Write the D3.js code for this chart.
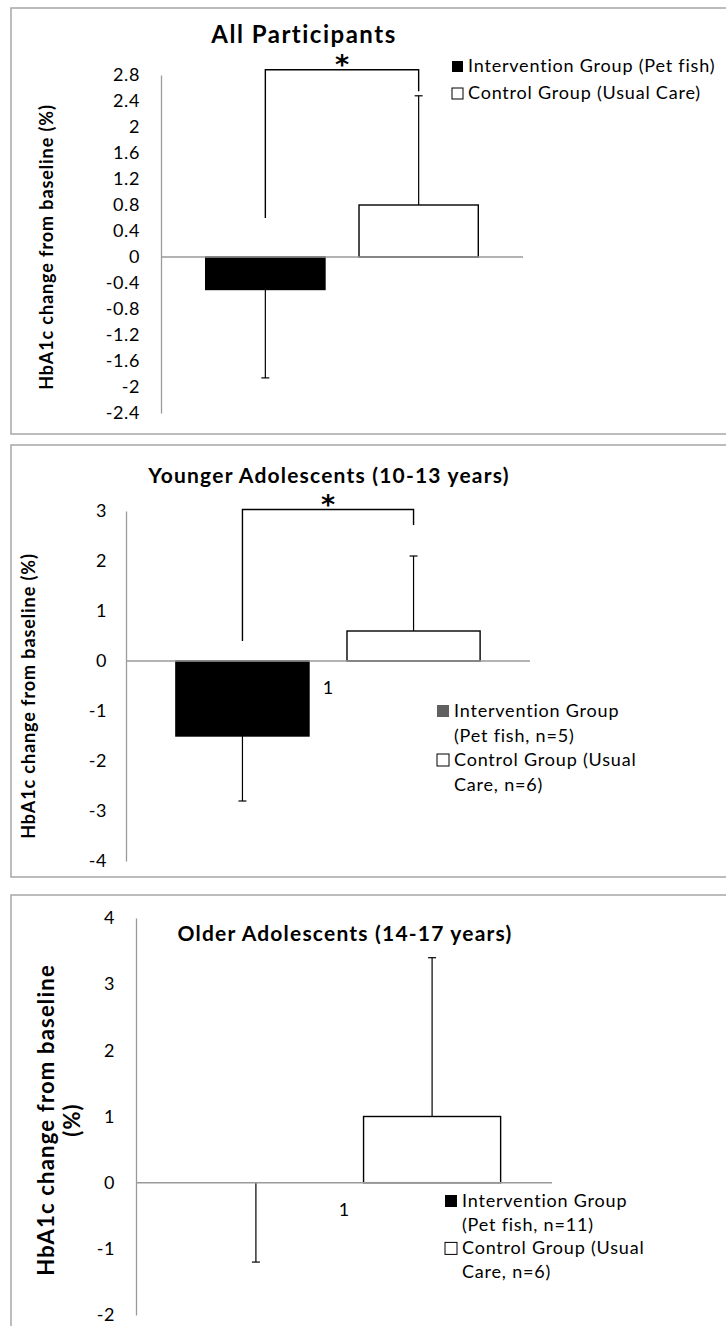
<!DOCTYPE html>
<html>
<head>
<meta charset="utf-8">
<script src="https://cdn.jsdelivr.net/npm/d3@7"></script>
<style>
  html, body { margin: 0; padding: 0; background: #fff; }
  svg { display: block; }
  text { font-family: Lato, "Open Sans", sans-serif; fill: #000; }
  text.sig { font-family: "DejaVu Sans", sans-serif; }
</style>
</head>
<body>
<svg id="chart" width="726" height="1326"></svg>
<script>
// ---------- data ----------
const panelTitles = ["All Participants", "Younger Adolescents (10-13 years)", "Older Adolescents (14-17 years)"];
const categories = ["1"];
const groupKeys = ["Intervention", "Control"];
const interventionMeans = [-0.5, -1.5, 0];
const interventionErr = [1.36, 1.3, 1.2];
const controlMeans = [0.8, 0.6, 1.0];
const controlErr = [1.68, 1.5, 2.4];
const yTicks1 = [2.8, 2.4, 2, 1.6, 1.2, 0.8, 0.4, 0, -0.4, -0.8, -1.2, -1.6, -2, -2.4];
const yTicks2 = [3, 2, 1, 0, -1, -2, -3, -4];
const yTicks3 = [4, 3, 2, 1, 0, -1, -2];
const yTitle = "HbA1c change from baseline (%)";
const yTitleSplit = ["HbA1c change from baseline", "(%)"];
const legend1 = [["Intervention Group (Pet fish)"], ["Control Group (Usual Care)"]];
const legend2 = [["Intervention Group", "(Pet fish, n=5)"], ["Control Group (Usual", "Care, n=6)"]];
const legend3 = [["Intervention Group", "(Pet fish, n=11)"], ["Control Group (Usual", "Care, n=6)"]];
const sigTop = [2.88, 3.03, null];
const sigLeftEnd = [0.6, 0.4, null];
const sigRightEnd = [2.55, 2.72, null];
const sigMark = "*";

// ---------- layout ----------
const layouts = [
  { boxTop: 8, boxBottom: 434, axisX: 161, plotRight: 523, yTop: 75, yBottom: 413, ticks: yTicks1,
    labelGap: 21, titleX: 304, titleY: 43, titleSize: 24, titleLS: 1.5,
    yTitleLines: [yTitle], yTitleX: [53], yTitleY: 247, yTitleSize: 18, yTitleLS: 0.9,
    legend: legend1, legendX: 452, legendBase: 72, legendLine: 27, sq: 11,
    legendColors: ["#000", "#fff"], showCat: false },
  { boxTop: 445, boxBottom: 877, axisX: 126, plotRight: 530, yTop: 511, yBottom: 861, ticks: yTicks2,
    labelGap: 19, titleX: 329, titleY: 483, titleSize: 21, titleLS: 1.2,
    yTitleLines: [yTitle], yTitleX: [35], yTitleY: 696, yTitleSize: 18, yTitleLS: 0.9,
    legend: legend2, legendX: 437, legendBase: 717, legendLine: 24.5, sq: 12,
    legendColors: ["#606060", "#fff"], showCat: true },
  { boxTop: 895, boxBottom: null, axisX: 136, plotRight: 552, yTop: 918, yBottom: 1315, ticks: yTicks3,
    labelGap: 21, titleX: 345, titleY: 941, titleSize: 21, titleLS: 1.2,
    yTitleLines: yTitleSplit, yTitleX: [54, 80], yTitleY: 1120, yTitleSize: 22, yTitleLS: 1.2,
    legend: legend3, legendX: 445, legendBase: 1207, legendLine: 23.7, sq: 12,
    legendColors: ["#000", "#fff"], showCat: true }
];

const svg = d3.select("#chart");
const borderColor = "#a6a6a6";
const axisColor = "#9a9a9a";
const bodySize = 18, bodyLS = 0.8;

layouts.forEach((L, i) => {
  const g = svg.append("g");

  // panel border
  if (L.boxBottom !== null) {
    g.append("rect").attr("x", 11).attr("y", L.boxTop)
      .attr("width", 730).attr("height", L.boxBottom - L.boxTop)
      .attr("fill", "none").attr("stroke", borderColor).attr("stroke-width", 1.5);
  } else {
    g.append("path").attr("d", `M11,1340V${L.boxTop}H740`)
      .attr("fill", "none").attr("stroke", borderColor).attr("stroke-width", 1.5);
  }

  const y = d3.scaleLinear().domain([d3.min(L.ticks), d3.max(L.ticks)]).range([L.yBottom, L.yTop]);
  const x0 = d3.scaleBand().domain(categories).range([L.axisX, L.plotRight]).paddingInner(0).paddingOuter(0.164);
  const x1 = d3.scaleBand().domain(groupKeys).range([0, x0.bandwidth()]).paddingInner(0.222).paddingOuter(0);

  // y axis
  const yAxis = d3.axisLeft(y).tickValues(L.ticks).tickSize(0).tickPadding(L.labelGap)
    .tickFormat(d => String(d));
  const ag = g.append("g").attr("transform", `translate(${L.axisX},0)`).call(yAxis);
  ag.select(".domain").attr("stroke", axisColor).attr("stroke-width", 1.3);
  ag.selectAll("text").attr("font-size", bodySize).attr("letter-spacing", 0.6).attr("fill", "#000");

  // bars
  const rows = [
    { key: "Intervention", mean: interventionMeans[i], err: interventionErr[i], fill: "#000" },
    { key: "Control", mean: controlMeans[i], err: controlErr[i], fill: "#fff" }
  ];
  const cat = categories[0];
  rows.forEach(r => {
    const bx = x0(cat) + x1(r.key);
    const y0 = y(0), yv = y(r.mean);
    if (r.mean !== 0) {
      g.append("rect").attr("x", bx).attr("y", Math.min(y0, yv))
        .attr("width", x1.bandwidth()).attr("height", Math.abs(y0 - yv))
        .attr("fill", r.fill).attr("stroke", "#000").attr("stroke-width", 1.4);
    }
    // one-sided error bar in the direction of the bar
    const cx = bx + x1.bandwidth() / 2;
    const dir = r.key === "Intervention" ? -1 : 1;
    const ye = y(r.mean + dir * r.err);
    g.append("line").attr("x1", cx).attr("x2", cx).attr("y1", yv).attr("y2", ye)
      .attr("stroke", "#000").attr("stroke-width", 1.2);
    g.append("line").attr("x1", cx - 4).attr("x2", cx + 4).attr("y1", ye).attr("y2", ye)
      .attr("stroke", "#000").attr("stroke-width", 1.2);
  });

  // zero line
  g.append("line").attr("x1", L.axisX).attr("x2", L.plotRight).attr("y1", y(0)).attr("y2", y(0))
    .attr("stroke", axisColor).attr("stroke-width", 1.5);

  // category label
  if (L.showCat) {
    g.append("text").attr("x", x0(cat) + x0.bandwidth() / 2).attr("y", y(0) + 33)
      .attr("text-anchor", "middle").attr("font-size", bodySize).text(cat);
  }

  // significance bracket
  if (sigTop[i] !== null) {
    const lx = x0(cat) + x1("Intervention") + x1.bandwidth() / 2;
    const rx = x0(cat) + x1("Control") + x1.bandwidth() / 2;
    g.append("path")
      .attr("d", `M${lx},${y(sigLeftEnd[i])}V${y(sigTop[i])}H${rx}V${y(sigRightEnd[i])}`)
      .attr("fill", "none").attr("stroke", "#000").attr("stroke-width", 1.4);
    g.append("text").attr("class", "sig").attr("x", (lx + rx) / 2).attr("y", y(sigTop[i]) + 4)
      .attr("text-anchor", "middle")
      .attr("font-size", 27).attr("font-weight", "bold").text(sigMark);
  }

  // title
  g.append("text").attr("x", L.titleX).attr("y", L.titleY).attr("text-anchor", "middle")
    .attr("font-size", L.titleSize).attr("letter-spacing", L.titleLS)
    .attr("font-weight", "bold").text(panelTitles[i]);

  // y title
  L.yTitleLines.forEach((t, k) => {
    g.append("text").attr("transform", `translate(${L.yTitleX[k]},${L.yTitleY}) rotate(-90)`)
      .attr("text-anchor", "middle").attr("font-size", L.yTitleSize).attr("letter-spacing", L.yTitleLS)
      .attr("font-weight", "bold").text(t);
  });

  // legend
  let line = 0;
  L.legend.forEach((lines, k) => {
    const base = L.legendBase + line * L.legendLine;
    g.append("rect").attr("x", L.legendX).attr("y", base - L.sq).attr("width", L.sq).attr("height", L.sq)
      .attr("fill", L.legendColors[k]).attr("stroke", k === 1 ? "#000" : "none").attr("stroke-width", 1);
    lines.forEach((t, j) => {
      g.append("text").attr("x", L.legendX + L.sq + 5).attr("y", L.legendBase + (line + j) * L.legendLine)
        .attr("font-size", bodySize).attr("letter-spacing", bodyLS).text(t);
    });
    line += lines.length;
  });
});
</script>
</body>
</html>
